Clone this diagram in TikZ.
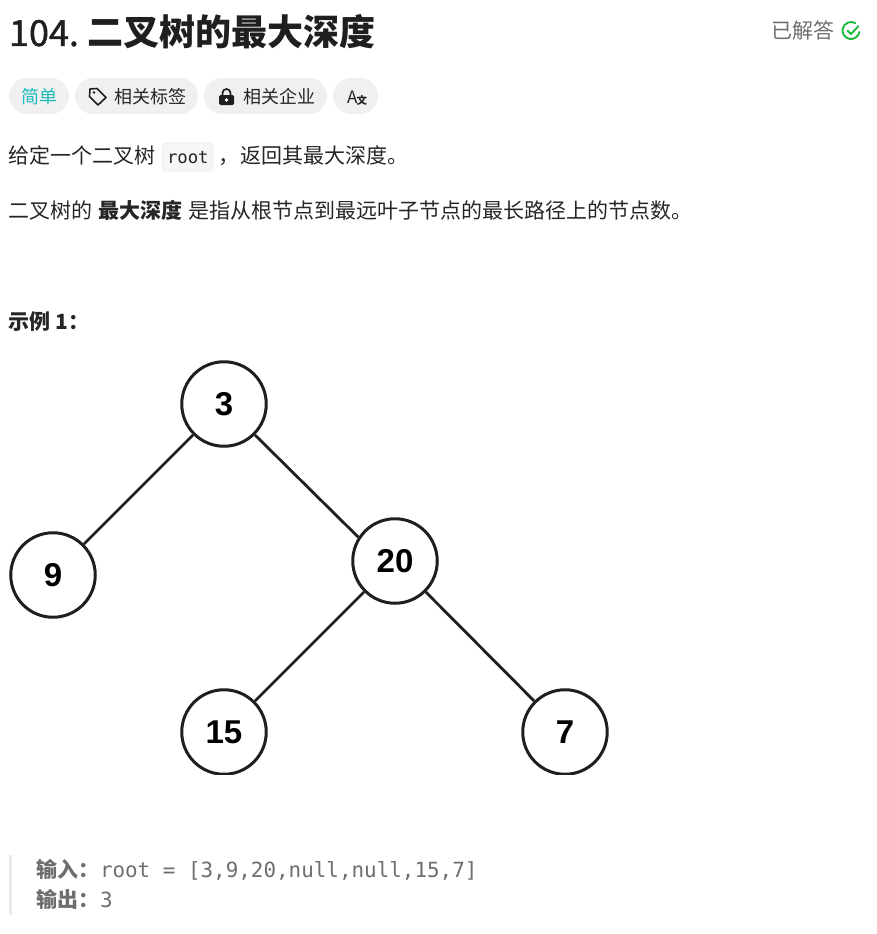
\documentclass[tikz,border=0pt]{standalone}
\usepackage{fontspec}
\setmainfont{Noto Sans CJK SC}
\newfontfamily\monof{DejaVu Sans Mono}
\newfontfamily\digitf{Liberation Sans}
\newfontfamily\semif[FakeBold=1.2]{Noto Sans CJK SC}
\newcommand{\fs}[1]{\fontsize{#1}{#1}\selectfont}
\definecolor{ink}{HTML}{1F1F1F}
\definecolor{body}{HTML}{262626}
\definecolor{pill}{HTML}{F0F0F0}
\definecolor{teal}{HTML}{1CBABA}
\definecolor{muted}{HTML}{6E6E6E}
\definecolor{okgreen}{HTML}{1CB83C}
\tikzset{
 x=1pt,y=-1pt,
 txt/.style={anchor=base west,inner sep=0pt,outer sep=0pt,text=body},
 pillbox/.style={fill=pill,draw=none,rounded corners=18pt},
 treenode/.style={circle,draw=ink,line width=3pt,minimum size=84.5pt,inner sep=0pt,fill=white,font=\digitf\bfseries\fs{33}},
 edge/.style={draw=ink,line width=2.8pt},
}
\begin{document}
\begin{tikzpicture}
\useasboundingbox (0,0) rectangle (877,934);
% title
\node[txt,text=ink] (num) at (9,46) {\semif\fs{36}104.};
\node[txt,text=ink] (title) at (87,46) {\fs{36}\bfseries 二叉树的最大深度};
\node[txt,text=muted] (solved) at (771,39) {\fs{21}已解答};
\draw[okgreen,line width=1.9pt,line cap=round] (851,30.5) ++(10:8.5) arc[start angle=10,end angle=300,radius=8.5];
\draw[okgreen,line width=1.9pt,line cap=round,line join=round] (847.5,30.5) -- (851,34) -- (858.5,26);
% pills
\fill[pillbox] (9,78) rectangle (69,114);
\fill[pillbox] (75,78) rectangle (198,114);
\fill[pillbox] (204,78) rectangle (327,114);
\fill[pillbox] (333,78) rectangle (378,114);
\node[txt,text=teal] (easy) at (21,103) {\fs{18}简单};
\node[txt] (tags) at (114,103) {\fs{18}相关标签};
\node[txt] (corp) at (243,103) {\fs{18}相关企业};
% tag icon
\draw[ink,line width=1.6pt,line join=round] (90,89) -- (97,88.5) -- (106,97.5) -- (98,105) -- (89.5,96.5) -- cycle;
\fill[ink] (94,92.5) circle (1.3);
% lock icon
\fill[ink,rounded corners=1.5pt] (219,95) rectangle (234,105);
\draw[ink,line width=1.7pt] (222.5,95) -- (222.5,93) arc[start angle=180,end angle=360,radius=4] -- (230.5,95);
\fill[white] (226.5,100) circle (1.8);
% translate icon
\node[txt,text=ink] (aa) at (347,103.5) {\fs{17}A};
\node[txt,text=ink] (wen) at (356.5,104) {\fs{10.5}\bfseries 文};
% paragraph 1
\node[txt] (p1a) at (9,163) {\fs{21}给定一个二叉树};
\fill[black!3.5,draw=black!7,line width=.8pt,rounded corners=4pt] (162.5,143) rectangle (213,171);
\node[txt,text=body] (root) at (167,163) {\monof\fs{17.3}root};
\node[txt] (p1b) at (218,163) {\fs{21}，};
\node[txt] (p1c) at (240,163) {\fs{21}返回其最大深度。};
% paragraph 2
\node[txt] (p2a) at (9,218) {\fs{21}二叉树的};
\node[txt] (p2b) at (98.5,218) {\fs{21}\bfseries 最大深度};
\node[txt] (p2c) at (188.5,218) {\fs{21}是指从根节点到最远叶子节点的最长路径上的节点数。};
% example
\node[txt] (ex) at (9,329) {\fs{21}\bfseries 示例 1：};
% tree, clipped as in the screenshot
\begin{scope}
\clip (0,350) rectangle (608.5,774.5);
\node[treenode] (n3) at (224,404) {3};
\node[treenode] (n9) at (53,575) {9};
\node[treenode] (n20) at (395,561) {20};
\node[treenode] (n15) at (224,732) {15};
\node[treenode] (n7) at (565,732) {7};
\draw[edge] (n3) -- (n9);
\draw[edge] (n3.-45) -- (n20.147);
\draw[edge] (n20) -- (n15);
\draw[edge] (n20) -- (n7);
\end{scope}
% quote
\fill[black!8] (9,855) rectangle (12,915);
\node[txt,text=muted] (in) at (36,877) {\fs{21}\bfseries 输入：};
\node[txt,text=muted] (inv) at (100,877) {\monof\fs{20.9}root = [3,9,20,null,null,15,7]};
\node[txt,text=muted] (out) at (36,907) {\fs{21}\bfseries 输出：};
\node[txt,text=muted] (outv) at (100,907) {\monof\fs{20.9}3};
\end{tikzpicture}
\end{document}
